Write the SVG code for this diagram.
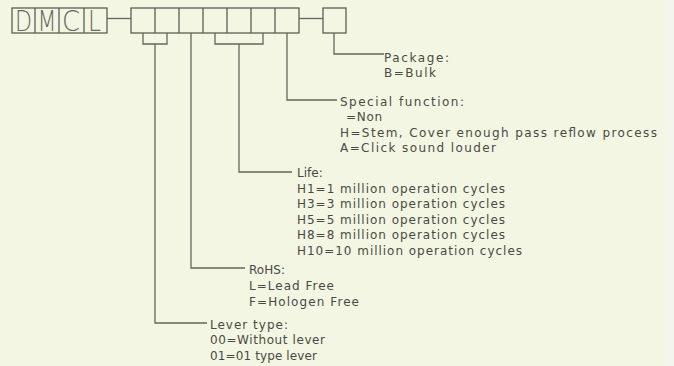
<svg xmlns="http://www.w3.org/2000/svg" width="674" height="366" viewBox="0 0 674 366">
<style>
.ln{fill:none;stroke:#66665c;stroke-width:1.3}
.bx{fill:none;stroke:#5e5e56;stroke-width:1.3}
.t{font-family:"DejaVu Sans","Liberation Sans",sans-serif;font-size:12px;fill:#4a4a44}
.big{font-family:"DejaVu Sans","Liberation Sans",sans-serif;font-size:29px;font-weight:200;fill:#666660}
</style>
<rect x="0" y="0" width="674" height="366" fill="#f3f6e3"/>
<rect x="665" y="0" width="9" height="366" fill="#f4f5ec"/>
<g id="prefix">
<rect class="bx" x="12" y="8" width="95" height="25"/>
<line class="bx" x1="35" y1="8" x2="35" y2="33"/>
<line class="bx" x1="59" y1="8" x2="59" y2="33"/>
<line class="bx" x1="84" y1="8" x2="84" y2="33"/>
<text class="big" x="15" y="31" textLength="17" lengthAdjust="spacingAndGlyphs">D</text>
<text class="big" x="37.5" y="31" textLength="19" lengthAdjust="spacingAndGlyphs">M</text>
<text class="big" x="62" y="31" textLength="18" lengthAdjust="spacingAndGlyphs">C</text>
<text class="big" x="88" y="31" textLength="13" lengthAdjust="spacingAndGlyphs">L</text>
</g>
<g id="code-cells">
<rect class="bx" x="131" y="8" width="168" height="25"/>
<line class="bx" x1="155" y1="8" x2="155" y2="33"/>
<line class="bx" x1="179" y1="8" x2="179" y2="33"/>
<line class="bx" x1="203" y1="8" x2="203" y2="33"/>
<line class="bx" x1="227" y1="8" x2="227" y2="33"/>
<line class="bx" x1="251" y1="8" x2="251" y2="33"/>
<line class="bx" x1="275" y1="8" x2="275" y2="33"/>
</g>
<g id="package-cell">
<rect class="bx" x="323" y="8" width="23" height="25"/>
</g>
<g id="connectors">
<line class="ln" x1="107" y1="18.5" x2="131" y2="18.5"/>
<line class="ln" x1="299" y1="18.5" x2="323" y2="18.5"/>
<path class="ln" d="M143 33V44H167V33"/>
<path class="ln" d="M155 44V323H207"/>
<path class="ln" d="M191 33V268H245"/>
<path class="ln" d="M215 33V44H263V33"/>
<path class="ln" d="M239 44V172H292"/>
<path class="ln" d="M287 33V100H337"/>
<path class="ln" d="M334 33V54H384"/>
</g>
<g id="package">
<text class="t" x="384" y="62" textLength="65">Package:</text>
<text class="t" x="384" y="77" textLength="52">B=Bulk</text>
</g>
<g id="special-function">
<text class="t" x="340" y="105.5" textLength="124">Special function:</text>
<text class="t" x="346" y="121" textLength="36">=Non</text>
<text class="t" x="340" y="137" textLength="317">H=Stem, Cover enough pass reflow process</text>
<text class="t" x="340" y="152" textLength="156">A=Click sound louder</text>
</g>
<g id="life">
<text class="t" x="297" y="177">Life:</text>
<text class="t" x="297" y="193" textLength="208">H1=1 million operation cycles</text>
<text class="t" x="297" y="208" textLength="208">H3=3 million operation cycles</text>
<text class="t" x="297" y="223.5" textLength="208">H5=5 million operation cycles</text>
<text class="t" x="297" y="239" textLength="208">H8=8 million operation cycles</text>
<text class="t" x="297" y="254.5" textLength="225">H10=10 million operation cycles</text>
</g>
<g id="rohs">
<text class="t" x="249" y="274" textLength="36">RoHS:</text>
<text class="t" x="249" y="290" textLength="85">L=Lead Free</text>
<text class="t" x="249" y="305.5" textLength="110">F=Hologen Free</text>
</g>
<g id="lever-type">
<text class="t" x="210" y="328.5" textLength="78">Lever type:</text>
<text class="t" x="210" y="344" textLength="115">00=Without lever</text>
<text class="t" x="210" y="359.5" textLength="107">01=01 type lever</text>
</g>
</svg>
